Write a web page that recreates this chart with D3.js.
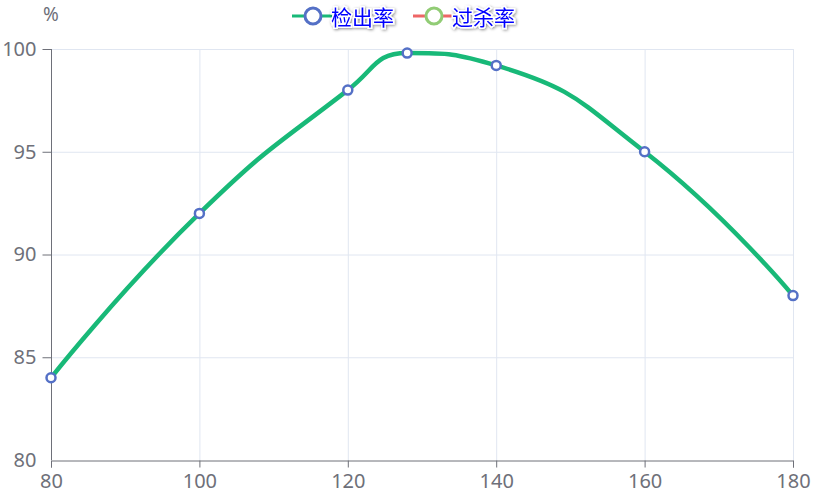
<!DOCTYPE html>
<html><head><meta charset="utf-8">
<script src="https://cdn.jsdelivr.net/npm/d3@7/dist/d3.min.js"></script>
<style>body{margin:0;background:#fff}svg{display:block}</style>
</head><body>
<svg id="c" width="814" height="497"></svg>
<script>
const xValues = [80, 100, 120, 128, 140, 160, 180];
const detectRate = [84, 92, 98, 99.8, 99.2, 95, 88];
const xTicks = [80, 100, 120, 140, 160, 180];
const yTicks = [80, 85, 90, 95, 100];
const legendNames = ["检出率", "过杀率"];
const yUnit = "%";

const svg = d3.select("#c");
const x = d3.scaleLinear().domain([80, 180]).range([51, 793]);
const y = d3.scaleLinear().domain([80, 100]).range([460, 49]);
const axisColor = "#6e7079", gridColor = "#e0e6f1";
const font = "'Noto Sans', 'DejaVu Sans', sans-serif";

const defs = svg.append("defs");
const f = defs.append("filter").attr("id","sh")
  .attr("x","-10%").attr("y","-30%").attr("width","120%").attr("height","160%");
f.append("feDropShadow").attr("dx",1).attr("dy",1).attr("stdDeviation",1.5).attr("flood-color","#000").attr("flood-opacity",0.45);

// grid
svg.append("g").selectAll("line").data(yTicks.filter(d=>d!==80)).join("line")
  .attr("x1", x(80)).attr("x2", x(180)).attr("y1", d=>y(d)+0.5).attr("y2", d=>y(d)+0.5)
  .attr("stroke", gridColor);
svg.append("g").selectAll("line").data(xTicks.filter(d=>d!==80)).join("line")
  .attr("y1", y(80)).attr("y2", y(100)).attr("x1", d=>x(d)+0.5).attr("x2", d=>x(d)+0.5)
  .attr("stroke", gridColor);

// axes
const yAxis = svg.append("g").attr("transform", `translate(${x(80)+0.5},0)`)
  .call(d3.axisLeft(y).tickValues(yTicks).tickSize(9).tickPadding(6));
const xAxis = svg.append("g").attr("transform", `translate(0,${y(80)+0.5})`)
  .call(d3.axisBottom(x).tickValues(xTicks).tickSize(7).tickPadding(6));
[xAxis, yAxis].forEach(a => {
  a.select(".domain").attr("stroke", axisColor);
  a.selectAll(".tick line").attr("stroke", axisColor);
  a.selectAll(".tick text").attr("fill", axisColor).attr("font-size", 20).attr("font-family", font);
});
yAxis.select(".domain").attr("d", `M0,${y(100)}V${y(80)}`);
yAxis.selectAll(".tick").filter(d=>d===80).select("line").remove();
svg.append("text").attr("x", x(80)).attr("y", 21).attr("text-anchor","middle")
  .attr("fill", axisColor).attr("font-size", 19).attr("font-family", font).text(yUnit);

// echarts-like smooth curve with control-point constraint
function echartsCurve(context){
  let pts = [];
  return {
    areaStart(){}, areaEnd(){},
    lineStart(){ pts = []; },
    point(px, py){ pts.push([px, py]); },
    lineEnd(){
      const s = 0.5, n = pts.length;
      const clamp = (v, a, b) => Math.min(Math.max(v, Math.min(a,b)), Math.max(a,b));
      const cps = pts.map((p,i)=>{
        if (i===0 || i===n-1) return [p.slice(), p.slice()];
        const pr = pts[i-1], nx = pts[i+1];
        const vx = nx[0]-pr[0], vy = nx[1]-pr[1];
        const d0 = Math.hypot(p[0]-pr[0], p[1]-pr[1]);
        const d1 = Math.hypot(nx[0]-p[0], nx[1]-p[1]);
        const r = d1/(d0+d1);
        let c0 = [p[0]-vx*s*(1-r), p[1]-vy*s*(1-r)];
        let c1 = [p[0]+vx*s*r, p[1]+vy*s*r];
        c1 = [clamp(c1[0], p[0], nx[0]), clamp(c1[1], p[1], nx[1])];
        let dx = c1[0]-p[0], dy = c1[1]-p[1];
        c0 = [p[0]-dx*d0/d1, p[1]-dy*d0/d1];
        c0 = [clamp(c0[0], p[0], pr[0]), clamp(c0[1], p[1], pr[1])];
        dx = p[0]-c0[0]; dy = p[1]-c0[1];
        c1 = [p[0]+dx*d1/d0, p[1]+dy*d1/d0];
        return [c0, c1];
      });
      context.moveTo(pts[0][0], pts[0][1]);
      for (let i=1;i<n;i++){
        const a = cps[i-1][1], b = cps[i][0];
        context.bezierCurveTo(a[0], a[1], b[0], b[1], pts[i][0], pts[i][1]);
      }
    }
  };
}
const data = xValues.map((v,i)=>[v, detectRate[i]]);
const line = d3.line().x(d=>x(d[0])).y(d=>y(d[1])).curve(echartsCurve);
svg.append("path").datum(data).attr("d", line).attr("fill","none")
  .attr("stroke","#18b978").attr("stroke-width",4.5).attr("stroke-linejoin","round");
svg.append("g").selectAll("circle").data(data).join("circle")
  .attr("cx", d=>x(d[0])).attr("cy", d=>y(d[1])).attr("r", 4.5)
  .attr("fill","#fff").attr("stroke","#5470c6").attr("stroke-width",2.5);

// legend
const legend = [
  {name: legendNames[0], line: "#18b978", sym: "#5470c6", x0: 292},
  {name: legendNames[1], line: "#ee6666", sym: "#91cc75", x0: 413}
];
const lg = svg.append("g").selectAll("g").data(legend).join("g").attr("transform", d=>`translate(${d.x0},16)`);
lg.append("line").attr("x1",0).attr("x2",40).attr("y1",0).attr("y2",0).attr("stroke",d=>d.line).attr("stroke-width",3);
lg.append("circle").attr("cx",21).attr("cy",0).attr("r",8).attr("fill","#fff").attr("stroke",d=>d.sym).attr("stroke-width",3);
lg.append("text").attr("x",39).attr("y",9).attr("font-size",21).attr("font-family","'Noto Sans CJK SC', sans-serif")
  .attr("fill","#0000ff").attr("stroke","#fff").attr("stroke-width",3).attr("paint-order","stroke")
  .attr("filter","url(#sh)").text(d=>d.name);
</script>
</body></html>
